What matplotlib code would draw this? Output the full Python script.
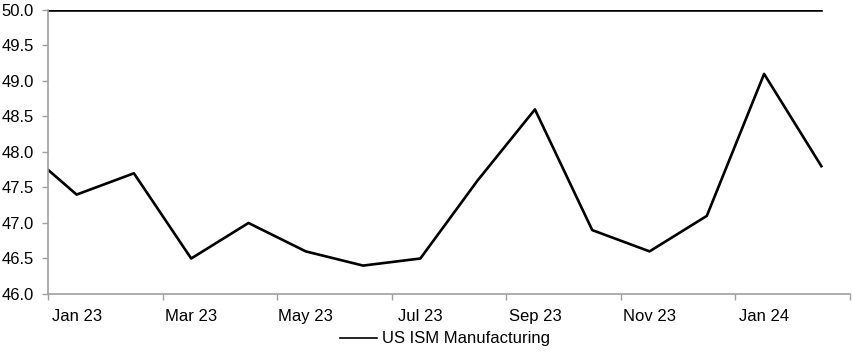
import numpy as np
import matplotlib.pyplot as plt

plt.rcParams['font.family'] = ['Liberation Sans', 'DejaVu Sans']

# monthly data, Dec 22 .. Feb 24 (Dec 22 sits just off the left edge)
months = ["Dec 22", "Jan 23", "Feb 23", "Mar 23", "Apr 23", "May 23", "Jun 23",
          "Jul 23", "Aug 23", "Sep 23", "Oct 23", "Nov 23", "Dec 23",
          "Jan 24", "Feb 24"]
ism = [48.1, 47.4, 47.7, 46.5, 47.0, 46.6, 46.4, 46.5, 47.6, 48.6, 46.9,
       46.6, 47.1, 49.1, 47.8]
threshold = [50.0] * len(months)

x = np.arange(len(months))

fig = plt.figure(figsize=(8.52, 3.57), dpi=100)
ax = fig.add_axes([0.0563, 0.1765, 0.9414, 0.7955])

ax.plot(x, threshold, color="black", linewidth=2.6)
ax.plot(x, ism, color="black", linewidth=1.9, label="US ISM Manufacturing")

ax.set_xlim(0.5, len(months) - 0.5)
ax.set_ylim(46.0, 50.0)

# y axis
ax.set_yticks(np.arange(46.0, 50.01, 0.5))
ax.set_yticklabels([f"{v:.1f}" for v in np.arange(46.0, 50.01, 0.5)])
ax.tick_params(axis="y", direction="out", length=4, width=1, color="#a0a0a0",
               pad=6, labelsize=12)

# x axis: tick marks at every other month boundary, labels in between
ax.set_xticks(np.arange(0.5, len(months), 2))
ax.set_xticklabels([])
ax.set_xticks(x[1::2], minor=True)
ax.set_xticklabels(months[1::2], minor=True)
ax.tick_params(axis="x", which="major", direction="out", length=4, width=1,
               color="#a0a0a0")
ax.tick_params(axis="x", which="minor", length=0, pad=11, labelsize=12)

for side in ["top", "right"]:
    ax.spines[side].set_visible(False)
for side in ["left", "bottom"]:
    ax.spines[side].set_color("#a0a0a0")
    ax.spines[side].set_linewidth(1.2)

leg = ax.legend(loc="center", bbox_to_anchor=(0.495, -0.158), frameon=False,
                fontsize=12, handlelength=2.2, handletextpad=0.3)
for line in leg.get_lines():
    line.set_linewidth(1.2)

fig.savefig("out.png", dpi=100)
